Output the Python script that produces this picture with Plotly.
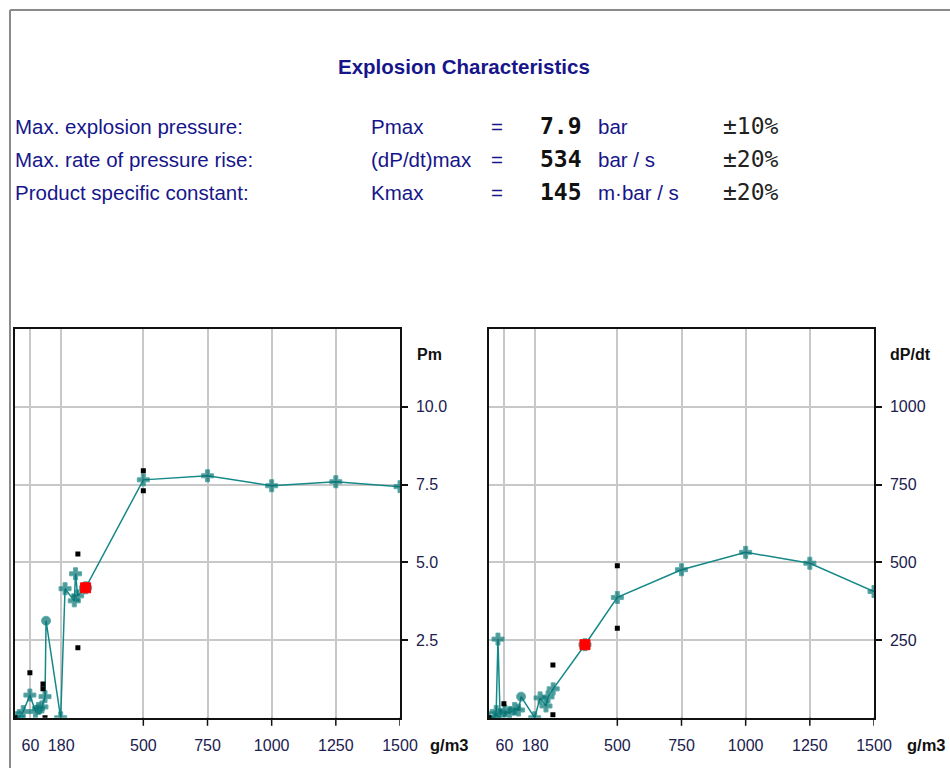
import plotly.graph_objects as go

# ---------------- data ----------------
# Left chart: maximum explosion pressure Pm (bar) vs concentration (g/m3)
PM_CONC = [0, 15, 32, 58, 80, 91, 105, 117, 121, 178, 195, 231, 236, 244, 275, 500, 750, 1000, 1250, 1500]
PM_VAL = [0, 0, 0.2, 0.73, 0.2, 0.3, 0.35, 0.68, 3.12, 0, 4.15, 3.76, 4.63, 3.92, 4.18, 7.65, 7.78, 7.46, 7.59, 7.43]
PM_PEAK_INDEX = 8
PM_SPREAD_CONC = [0, 58, 109, 109, 117, 245, 245, 500, 500]
PM_SPREAD_VAL = [0, 1.45, 1.09, 0.93, 0, 5.27, 2.25, 7.94, 7.30]
PM_MARK_CONC = [275]
PM_MARK_VAL = [4.18]

# Right chart: rate of pressure rise dP/dt (bar/s) vs concentration (g/m3)
DP_CONC = [0, 22, 28, 35, 43, 62, 80, 100, 115, 125, 178, 199, 222, 230, 250, 374, 500, 750, 1000, 1250, 1500]
DP_VAL = [0, 0, 20, 253, 10, 22, 15, 30, 25, 68, 0, 64, 38, 67, 93, 235, 387, 476, 532, 497, 406]
DP_PEAK_INDEX = 9
DP_SPREAD_CONC = [0, 58, 249, 249, 500, 500]
DP_SPREAD_VAL = [0, 45, 170, 10, 489, 288]
DP_MARK_CONC = [374]
DP_MARK_VAL = [235]

X_TICKS = [60, 180, 500, 750, 1000, 1250, 1500]
X_TICK_MARKS = [500, 750, 1000, 1250, 1500]
PM_TICKS = [2.5, 5.0, 7.5, 10.0]
PM_TICKTEXT = ["2.5", "5.0", "7.5", "10.0"]
DP_TICKS = [250, 500, 750, 1000]

HDR_LABELS = ["Max. explosion pressure:", "Max. rate of pressure rise:", "Product specific constant:"]
HDR_SYMBOLS = ["Pmax", "(dP/dt)max", "Kmax"]
HDR_VALUES = ["7.9", "534", "145"]
HDR_UNITS = ["bar", "bar / s", "m·bar / s"]
HDR_TOL = ["±10%", "±20%", "±20%"]

# ---------------- style ----------------
W, H = 950, 768
SANS = "Liberation Sans, Arial, sans-serif"
MONO = "DejaVu Sans Mono, Liberation Mono, monospace"
NAVY = "#16168a"
TICKCOL = "#20204e"
TEAL_LINE = "#168888"
TEAL_MARK = "#067070"
GRID = "#c8c8c8"


def px(x):
    return x / W


def py(y):
    return 1 - y / H


fig = go.Figure()


def add_series(conc, val, peak, sconc, sval, mconc, mval, xa, ya):
    symbols = ["circle" if i == peak else "cross" for i in range(len(conc))]
    sizes = [9 if i == peak else 10 for i in range(len(conc))]
    fig.add_trace(go.Scatter(
        x=conc, y=val, xaxis=xa, yaxis=ya, mode="lines+markers",
        line=dict(color=TEAL_LINE, width=1.5),
        marker=dict(symbol=symbols, size=sizes, color=TEAL_MARK),
        hoverinfo="x+y"))
    fig.add_trace(go.Scatter(
        x=sconc, y=sval, xaxis=xa, yaxis=ya, mode="markers",
        marker=dict(symbol="square", size=5, color="#000000"),
        hoverinfo="x+y"))
    fig.add_trace(go.Scatter(
        x=mconc, y=mval, xaxis=xa, yaxis=ya, mode="markers",
        marker=dict(symbol="square", size=10, color="#ff0000",
                    line=dict(color="#ff0000", width=1)),
        hoverinfo="x+y"))


add_series(PM_CONC, PM_VAL, PM_PEAK_INDEX, PM_SPREAD_CONC, PM_SPREAD_VAL,
           PM_MARK_CONC, PM_MARK_VAL, "x", "y")
add_series(DP_CONC, DP_VAL, DP_PEAK_INDEX, DP_SPREAD_CONC, DP_SPREAD_VAL,
           DP_MARK_CONC, DP_MARK_VAL, "x2", "y2")

y_dom = [py(717.8), py(329)]

xaxis_common = dict(
    range=[0, 1500], tickmode="array", tickvals=X_TICKS,
    ticktext=[str(v) for v in X_TICKS], ticks="", showgrid=True,
    gridcolor=GRID, gridwidth=1.5, showline=True, linecolor="#111111",
    linewidth=1.5, mirror=True, zeroline=False, automargin=False,
    tickfont=dict(family=SANS, size=16, color=TICKCOL),
    ticklabelstandoff=12, fixedrange=True)

yaxis_common = dict(
    side="right", tickmode="array", ticks="outside", ticklen=6,
    tickcolor="#111111", tickwidth=1.5, showgrid=True, gridcolor=GRID,
    gridwidth=1.5, showline=True, linecolor="#111111", linewidth=1.5,
    mirror=True, zeroline=False, automargin=False,
    tickfont=dict(family=SANS, size=16, color=TICKCOL),
    ticklabelstandoff=5, fixedrange=True)

fig.update_layout(
    width=W, height=H,
    margin=dict(l=0, r=0, t=0, b=0, pad=0, autoexpand=False),
    paper_bgcolor="white", plot_bgcolor="white", showlegend=False,
    xaxis=dict(domain=[px(15), px(400)], anchor="y", **xaxis_common),
    yaxis=dict(domain=y_dom, anchor="x", range=[0, 12.5],
               tickvals=PM_TICKS, ticktext=PM_TICKTEXT, **yaxis_common),
    xaxis2=dict(domain=[px(489), px(874)], anchor="y2", **xaxis_common),
    yaxis2=dict(domain=y_dom, anchor="x2", range=[0, 1250],
                tickvals=DP_TICKS, ticktext=[str(v) for v in DP_TICKS],
                **yaxis_common),
)

shapes = []
# outward tick marks on the concentration axes (only from 500 upward)
tick_len = 8 / (717.8 - 329)
for xr, yr in (("x", "y domain"), ("x2", "y2 domain")):
    for v in X_TICK_MARKS:
        shapes.append(dict(type="line", xref=xr, yref=yr, x0=v, x1=v,
                           y0=0, y1=-tick_len,
                           line=dict(color="#111111", width=1.5)))
# page frame lines
shapes.append(dict(type="line", xref="paper", yref="paper",
                   x0=px(10), x1=px(10), y0=py(10), y1=0,
                   line=dict(color="#8a8a8a", width=2)))
shapes.append(dict(type="line", xref="paper", yref="paper",
                   x0=px(10), x1=1, y0=py(10), y1=py(10),
                   line=dict(color="#8a8a8a", width=2)))
fig.update_layout(shapes=shapes)

ann = []
ann.append(dict(text="Explosion Characteristics", x=px(464), y=py(66),
                xref="paper", yref="paper", xanchor="center", yanchor="middle",
                showarrow=False,
                font=dict(family=SANS, size=20.5, color=NAVY, weight="bold")))
row_y = [126, 159, 192]
for i in range(3):
    yy = py(row_y[i])
    ann.append(dict(text=HDR_LABELS[i], x=px(13), y=yy, xref="paper", yref="paper",
                    xanchor="left", yanchor="middle", showarrow=False,
                    font=dict(family=SANS, size=20.5, color=NAVY)))
    ann.append(dict(text=HDR_SYMBOLS[i], x=px(369), y=yy, xref="paper", yref="paper",
                    xanchor="left", yanchor="middle", showarrow=False,
                    font=dict(family=SANS, size=20.5, color=NAVY)))
    ann.append(dict(text="=", x=px(489), y=yy, xref="paper", yref="paper",
                    xanchor="left", yanchor="middle", showarrow=False,
                    font=dict(family=SANS, size=20.5, color=NAVY)))
    ann.append(dict(text=HDR_VALUES[i], x=px(538), y=yy, xref="paper", yref="paper",
                    xanchor="left", yanchor="middle", showarrow=False,
                    font=dict(family=MONO, size=23, color="#111111", weight="bold")))
    ann.append(dict(text=HDR_UNITS[i], x=px(596), y=yy, xref="paper", yref="paper",
                    xanchor="left", yanchor="middle", showarrow=False,
                    font=dict(family=SANS, size=20.5, color=NAVY)))
    ann.append(dict(text=HDR_TOL[i], x=px(721), y=yy, xref="paper", yref="paper",
                    xanchor="left", yanchor="middle", showarrow=False,
                    font=dict(family=MONO, size=23, color="#222222")))

# axis captions
for x_left, txt in ((415, "Pm"), (888, "dP/dt")):
    ann.append(dict(text=txt, x=px(x_left), y=py(354), xref="paper", yref="paper",
                    xanchor="left", yanchor="middle", showarrow=False,
                    font=dict(family=SANS, size=16, color="#111111", weight="bold")))
for x_left in (428, 905):
    ann.append(dict(text="g/m3", x=px(x_left), y=py(745), xref="paper", yref="paper",
                    xanchor="left", yanchor="middle", showarrow=False,
                    font=dict(family=SANS, size=16.5, color="#111111", weight="bold")))
fig.update_layout(annotations=ann)

PAGE_JS = (
    "document.documentElement.style.margin='0';"
    "document.documentElement.style.overflow='hidden';"
    "document.body.style.margin='0';"
    "document.body.style.overflow='hidden';"
)
fig.write_html("out.html", config={"displayModeBar": False, "responsive": False},
               post_script=PAGE_JS)
